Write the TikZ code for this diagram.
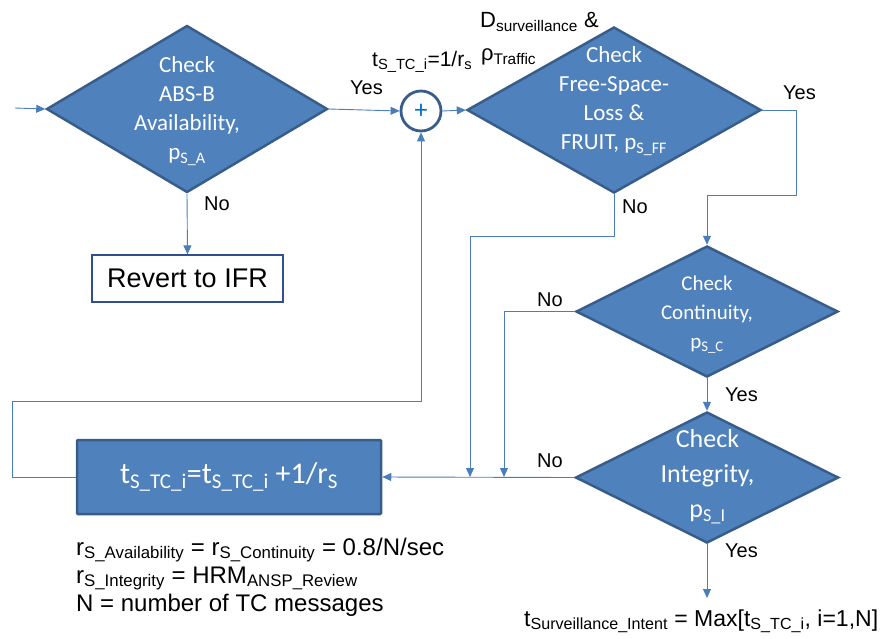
\documentclass[tikz,border=0pt]{standalone}
\usepackage{fontspec}
\setmainfont{Liberation Sans}
\newfontfamily\calib{Carlito}
\usetikzlibrary{shapes.geometric,arrows.meta}
\definecolor{dfill}{HTML}{4F81BD}
\definecolor{dline}{HTML}{385D8A}
\definecolor{conn}{HTML}{4A7EBB}
\definecolor{navy}{HTML}{2F4F8F}
\definecolor{plusc}{HTML}{0070C0}
\newcommand\sbs[1]{\textsubscript{#1}}
\begin{document}
\begin{tikzpicture}[x=1pt,y=-1pt,
  dia/.style 2 args={diamond,draw=dline,fill=dfill,line width=2.5pt,inner sep=0pt,
    minimum width=#1,minimum height=#2},
  dtext/.style={align=center,text=white,font=\calib\fontsize{#1}{29}\selectfont},
  dtext/.default=23,
  conline/.style={draw=conn,line width=0.9pt},
  arr/.style={conline,-{Triangle[length=9pt,width=8pt]}},
  lbl/.style={font=\fontsize{20}{24}\selectfont,inner sep=0pt,anchor=base west},
  note/.style={font=\fontsize{24}{28}\selectfont,inner sep=0pt,anchor=base west}]
\useasboundingbox (0,0) rectangle (891,638);

% nodes
\node[dia={281}{167}] (d1) at (187,109) {};
\node[dtext] (d1t) at (187,111) {Check\\ABS-B\\Availability,\\p\sbs{S\_A}};
\node[draw=navy,line width=1.2pt,fill=white,minimum width=191,minimum height=47,inner sep=0pt,
  font=\fontsize{27}{30}\selectfont] (ifr) at (187.5,278.5) {Revert to IFR};
\node[circle,draw=dline,line width=2.8pt,fill=white,minimum size=40,inner sep=0pt,
  text=plusc,font=\calib\fontsize{26}{28}\selectfont] (plus) at (421,111) {+};
\node[dia={294}{166}] (d2) at (614,110) {};
\node[dtext] (d2t) at (614,101) {Check\\Free-Space-\\Loss \&\\FRUIT, p\sbs{S\_FF}};
\node[dia={262}{131}] (d3) at (707,311.5) {};
\node[dtext=21] (d3t) at (707,315) {Check\\Continuity,\\p\sbs{S\_C}};
\node[dia={263}{131}] (d4) at (707,477.5) {};
\node[align=center,text=white,font=\calib\fontsize{26}{35}\selectfont] (d4t) at (707.5,477) {Check\\Integrity,\\p\sbs{S\_I}};
\node[rectangle,draw=dline,fill=dfill,line width=2.5pt,rounded corners=1pt,
  minimum width=304,minimum height=74,inner sep=0pt,text=white,
  font=\calib\fontsize{30}{34}\selectfont] (upd) at (229,477)
  {t\sbs{S\_TC\_i}=t\sbs{S\_TC\_i} +1/r\sbs{S}};

% coordinates
\coordinate (in) at (15,108);
\coordinate (c1) at (796,195);
\coordinate (n2) at (470,236);
\coordinate (j1) at (470,477);
\coordinate (j2) at (504,477);
\coordinate (fb) at (12,401);
\coordinate (out) at (707,598);

% connectors
\draw[arr] (in) -- (d1.west);
\draw[arr] (d1.east) -- (plus.west);
\draw[arr] (d1.south) -- (ifr.north);
\draw[arr] (plus.east) -- (d2.west);
\draw[arr] (d2.east) -| (c1) -| (d3.north);
\draw[arr] (d2.south) |- (n2) -- (j1);
\draw[arr] (d3.west) -| (j2);
\draw[arr] (d3.south) -- (d4.north);
\draw[arr] (d4.west) -- (upd.east);
\draw[arr] (d4.south) -- (out);
\draw[arr] (upd.west) -| (fb) -| (plus.south);

% labels
\node[lbl] (yes1) at (350,94) {Yes};
\node[lbl] (no1) at (204,210) {No};
\node[lbl,font=\fontsize{21}{24}\selectfont] (tlab) at (372,66) {t\sbs{S\_TC\_i}=1/r\sbs{s}};
\node[lbl,font=\fontsize{22}{24}\selectfont] (dsur) at (480,27) {D\sbs{surveillance} \&};
\node[lbl,font=\fontsize{22}{24}\selectfont] (rho) at (481,60) {ρ\sbs{Traffic}};
\node[lbl] (yes2) at (783,99) {Yes};
\node[lbl] (no2) at (622,213) {No};
\node[lbl] (no3) at (537,306) {No};
\node[lbl] (yes3) at (725,401) {Yes};
\node[lbl] (no4) at (537,467) {No};
\node[lbl] (yes4) at (725,557) {Yes};

% notes
\node[note] (n1) at (76,555) {r\sbs{S\_Availability} = r\sbs{S\_Continuity} = 0.8/N/sec};
\node[note] (n2t) at (76,583) {r\sbs{S\_Integrity} = HRM\sbs{ANSP\_Review}};
\node[note] (n3) at (76,611) {N = number of TC messages};
\node[note,font=\fontsize{23}{28}\selectfont] (res) at (524,626) {t\sbs{Surveillance\_Intent} = Max[t\sbs{S\_TC\_i}, i=1,N]};
\end{tikzpicture}
\end{document}
